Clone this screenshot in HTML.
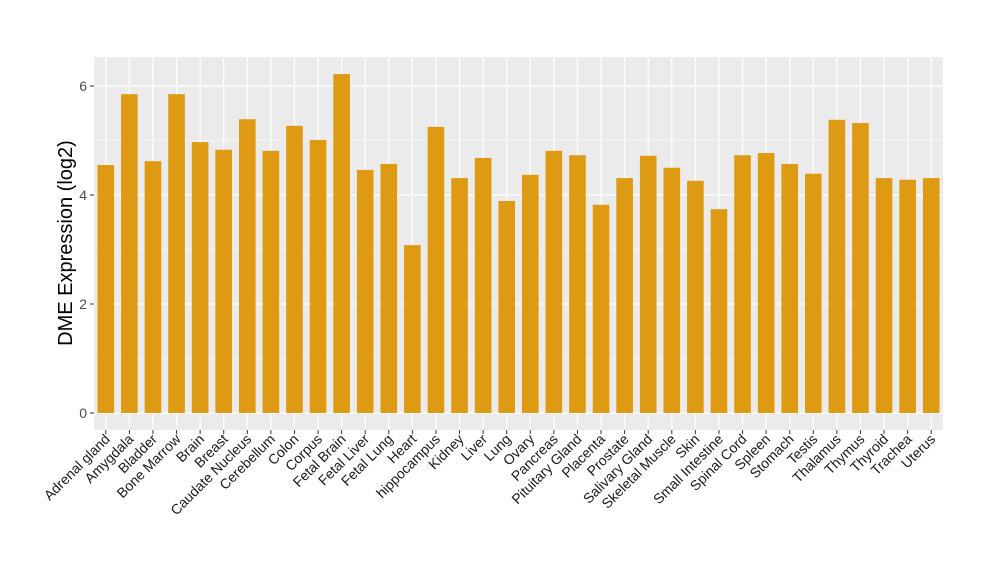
<!DOCTYPE html>
<html><head><meta charset="utf-8"><style>body{margin:0;background:#fff}svg{display:block}</style></head><body>
<svg id="s" width="1000" height="580" xmlns="http://www.w3.org/2000/svg" font-family="Liberation Sans, sans-serif">
<rect x="94" y="57" width="849" height="373" fill="#EBEBEB"/>
<g id="g"></g>
</svg>
<script>
const names=["Adrenal gland","Amygdala","Bladder","Bone Marrow","Brain","Breast","Caudate Nucleus","Cerebellum","Colon","Corpus","Fetal Brain","Fetal Liver","Fetal Lung","Heart","hippocampus","Kidney","Liver","Lung","Ovary","Pancreas","Pituitary Gland","Placenta","Prostate","Salivary Gland","Skeletal Muscle","Skin","Small Intestine","Spinal Cord","Spleen","Stomach","Testis","Thalamus","Thymus","Thyroid","Trachea","Uterus"];
const vals=[4.55,5.85,4.62,5.85,4.97,4.83,5.39,4.81,5.27,5.01,6.22,4.46,4.57,3.08,5.25,4.31,4.68,3.89,4.37,4.81,4.73,3.82,4.31,4.72,4.5,4.26,3.74,4.73,4.77,4.57,4.39,5.38,5.32,4.31,4.28,4.31];
const y0=413,k=54.5,L=94,R=943,step=(R-L)/36,bw=16.6;
let h="";
for(let v=1;v<=5;v+=2){h+=`<line x1="${L}" x2="${R}" y1="${y0-v*k}" y2="${y0-v*k}" stroke="#fff" stroke-width="0.6"/>`;}
for(let v=0;v<=6;v+=2){const y=y0-v*k;h+=`<line x1="${L}" x2="${R}" y1="${y}" y2="${y}" stroke="#fff" stroke-width="1.2"/><line x1="${L-4}" x2="${L}" y1="${y}" y2="${y}" stroke="#333"/><text x="${L-7}" y="${y+5}" font-size="14" text-anchor="end" fill="#4D4D4D">${v}</text>`;}
names.forEach((n,i)=>{const c=L+step*(i+0.5);h+=`<line x1="${c}" x2="${c}" y1="${57}" y2="430" stroke="#fff" stroke-width="1.2"/>`;});
names.forEach((n,i)=>{const c=L+step*(i+0.5);const t=y0-vals[i]*k;h+=`<rect x="${c-bw/2}" y="${t}" width="${bw}" height="${y0-t}" fill="#DE9A12"/><line x1="${c}" x2="${c}" y1="430" y2="434" stroke="#333"/><text transform="translate(${c+5},${440}) rotate(-45)" font-size="14" text-anchor="end" fill="#1a1a1a">${n}</text>`;});
h+=`<text transform="translate(72,243) rotate(-90)" font-size="20" text-anchor="middle" fill="#000">DME Expression (log2)</text>`;
document.getElementById("g").innerHTML=h;
</script>
</body></html>
